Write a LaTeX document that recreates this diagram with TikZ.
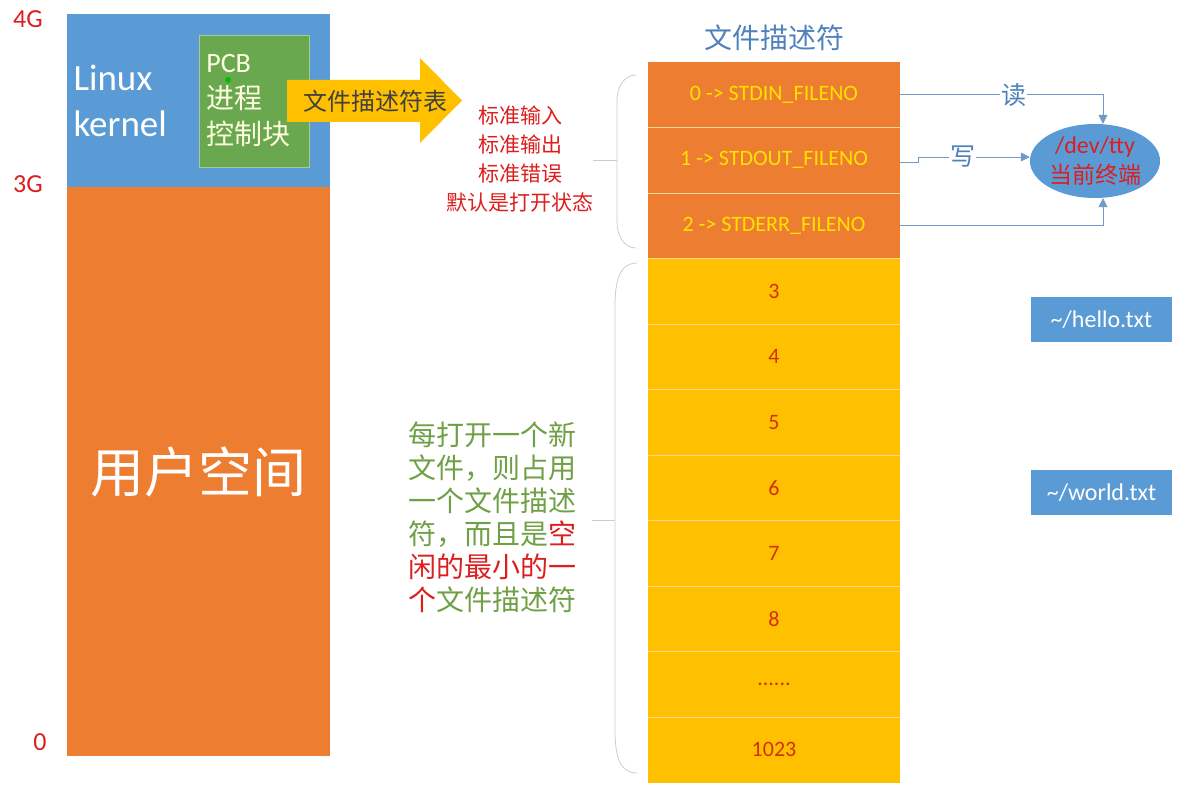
\documentclass[tikz,border=0pt]{standalone}
\usepackage{fontspec}
\setmainfont{Carlito}
\newfontfamily\cjk{Noto Sans CJK SC}
\usepackage{xcolor}
\usepackage{tikz}
\usetikzlibrary{shapes.geometric,arrows.meta,positioning,calc}
\definecolor{kblue}{RGB}{91,155,213}
\definecolor{uorange}{RGB}{237,125,49}
\definecolor{fdyellow}{RGB}{255,192,0}
\definecolor{pcbgreen}{RGB}{106,168,79}
\definecolor{notered}{RGB}{220,30,30}
\definecolor{gnote}{RGB}{112,160,70}
\definecolor{titleblue}{RGB}{79,129,189}
\definecolor{linkblue}{RGB}{110,155,200}
\definecolor{hitxt}{RGB}{255,225,0}
\definecolor{lotxt}{RGB}{210,50,10}
\definecolor{bracegray}{RGB}{205,205,205}
\definecolor{sepline}{RGB}{250,215,150}
\newcommand{\fsz}[2]{\fontsize{#1}{#2}\selectfont}
\newcommand{\moredots}{......}
\tikzstyle{bar} = [rectangle, minimum width=263pt, inner sep=0, outer sep=0]
\tikzstyle{lvl} = [text=notered, font=\fsz{26}{30}]
\tikzstyle{fdhi} = [rectangle, fill=uorange, minimum width=252pt, minimum height=65.5pt, inner sep=0, outer sep=0, text=hitxt, font=\fsz{22}{26}]
\tikzstyle{fdlo} = [fdhi, fill=fdyellow, text=lotxt]
\tikzstyle{fbox} = [rectangle, fill=kblue, minimum width=141pt, minimum height=45pt, text=white, font=\fsz{24}{28}]
\tikzstyle{link} = [thick, linkblue, -{Triangle[length=9pt,width=9pt]}]
\tikzstyle{brace} = [thick, bracegray]
\tikzstyle{sep} = [thick, sepline]

\begin{document}
\begin{tikzpicture}[x=1pt, y=-1pt]
    \useasboundingbox (0,0) rectangle (1179,802);
    % address space
    \node[bar, fill=kblue, minimum height=173pt] (kern) at (198.5,100.5) {};
    \node[bar, fill=uorange, minimum height=569pt, below=0pt of kern] (user) {};
    \node[lvl] (g4) at (28,19) {4G};
    \node[lvl] (g3) at (28,184) {3G};
    \node[lvl] (g0) at (40,742) {0};
    \node[text=white, font=\fsz{37}{46}, align=left, anchor=west] (ktxt) at (70,101) {Linux\\kernel};
    \node[text=white, font=\cjk\fsz{54}{60}] (utxt) at (user) {用户空间};
    \node[rectangle, fill=pcbgreen, draw=pcbgreen!60!white, minimum width=110pt, minimum height=132pt] (pcb) at (254,101) {};
    \node[text=white!88!yellow, font=\fsz{28}{36}, align=left, anchor=west] (pcbtxt) at ([xshift=4pt]pcb.west) {PCB\\{\cjk 进程}\\{\cjk 控制块}};
    \fill[green!75!black] (228,80) circle (3pt);
    % fd table arrow
    \fill[fdyellow] (287,80) -- (420,80) -- (420,58) -- (462,100.5) -- (420,143) -- (420,122) -- (287,122) -- cycle;
    \node[text=black!75, font=\cjk\fsz{24}{28}] (fdt) at (375,101) {文件描述符表};
    \node[text=notered, font=\cjk\fsz{21}{29}, align=center] (std) at (520,159) {标准输入\\标准输出\\标准错误\\默认是打开状态};
    % table
    \node[fdhi] (r0) at (774,94.75) {0 -> STDIN\_FILENO};
    \node[fdhi, below=0pt of r0] (r1) {1 -> STDOUT\_FILENO};
    \node[fdhi, below=0pt of r1] (r2) {2 -> STDERR\_FILENO};
    \foreach \lbl [count=\k from 3] in {3,4,5,6,7,8,\moredots,1023} {
        \pgfmathtruncatemacro{\prev}{\k-1}
        \node[fdlo, below=0pt of r\prev] (r\k) {\lbl};
    }
    \foreach \k in {0,...,9} \draw[sep] (r\k.south west) -- (r\k.south east);
    \node[text=titleblue, font=\cjk\fsz{28}{32}, above=8pt of r0] (fdtitle) {文件描述符};
    % braces
    \draw[brace] (636,75) to[out=180,in=90] (617,100) -- (617,222) to[out=270,in=180] (636,248);
    \draw[brace] (617,160) -- (593,160);
    \draw[brace] (637,263) to[out=180,in=90] (615,320) -- (615,715) to[out=270,in=180] (637,773);
    \draw[brace] (615,520) -- (592,520);
    \node[text=gnote, font=\cjk\fsz{28}{33}, align=left] (note) at (492,517)
        {每打开一个新\\文件，则占用\\一个文件描述\\符，而且是\textcolor{notered}{空}\\\textcolor{notered}{闲的最小的一}\\\textcolor{notered}{个}文件描述符};
    % terminal
    \node[ellipse, fill=kblue, minimum width=130pt, minimum height=74pt, inner sep=0, text=notered,
          font=\fsz{24}{30}, align=center] (tty) at (1095,161) {/dev/tty\\{\cjk\fsz{23}{30}当前终端}};
    \draw[link] (r0.east) -| node[pos=0.28, fill=white, text=titleblue, font=\cjk\fsz{25}{28}, inner sep=1pt] {读} ([xshift=8pt]tty.north);
    \draw[link] ([yshift=-2pt]r1.east) -- ++(18,0) |- node[pos=0.7, fill=white, text=titleblue, font=\cjk\fsz{25}{28}, inner sep=1pt] {写} ([yshift=4pt]tty.west);
    \draw[link] (r2.east) -| ([xshift=8pt]tty.south);
    % files
    \node[fbox] (hello) at (1101.5,319.5) {\textasciitilde/hello.txt};
    \node[fbox] (world) at (1101.5,492.5) {\textasciitilde/world.txt};
\end{tikzpicture}
\end{document}
